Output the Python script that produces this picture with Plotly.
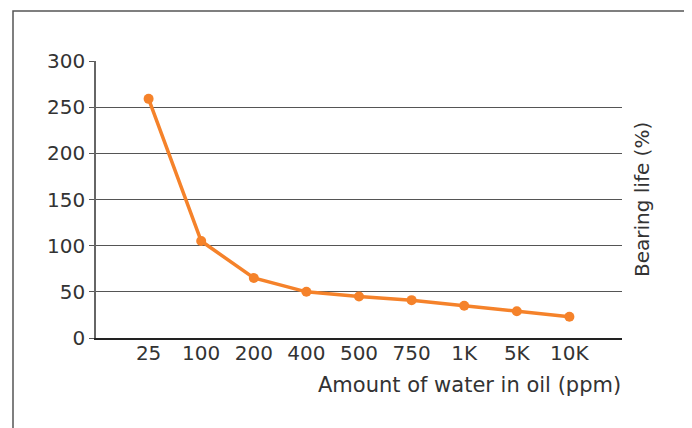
import plotly.graph_objects as go

categories = ["25", "100", "200", "400", "500", "750", "1K", "5K", "10K"]
bearing_life = [259, 105, 65, 50, 45, 41, 35, 29, 23]

# page body has an 8px margin; work in figure pixel coordinates
OFF = 8
W, H = 692 - OFF, 428 - OFF
L, R, T, B = 96 - OFF, 622 - OFF, 61 - OFF, 338 - OFF  # plot area pixels

def px(x):
    return (x - OFF - L) / (R - L)

def py(y):
    return (B - (y - OFF)) / (B - T)

fig = go.Figure()
fig.add_trace(go.Scatter(
    x=categories, y=bearing_life, mode="lines+markers",
    line=dict(color="#F5822A", width=3.5),
    marker=dict(color="#F5822A", size=10),
    hoverinfo="x+y",
))

tickfont = dict(family="DejaVu Sans", size=20, color="#333333")

fig.update_layout(
    width=W, height=H,
    margin=dict(l=L, r=W - R, t=T, b=H - B),
    paper_bgcolor="white", plot_bgcolor="white",
    showlegend=False,
    xaxis=dict(
        type="category", range=[-1, 9],
        showgrid=False, zeroline=False,
        showline=True, linecolor="#222222", linewidth=1.5,
        ticks="", tickfont=tickfont, ticklabelstandoff=-4,
    ),
    yaxis=dict(
        range=[0, 300], dtick=50, tick0=0,
        showgrid=True, gridcolor="#555555", gridwidth=1.2,
        zeroline=False,
        showline=True, linecolor="#666666", linewidth=1.5,
        ticks="outside", ticklen=5, tickcolor="#555555", tickwidth=1.2,
        tickfont=tickfont,
    ),
    shapes=[dict(
        type="rect", xref="paper", yref="paper",
        x0=px(13), x1=px(685), y0=py(445), y1=py(11),
        line=dict(color="#555555", width=1.5), fillcolor="rgba(0,0,0,0)",
        layer="below",
    )],
    annotations=[
        dict(text="Amount of water in oil (ppm)", xref="paper", yref="paper",
             x=px(623), y=py(385), xanchor="right", yanchor="middle",
             showarrow=False, font=dict(family="DejaVu Sans", size=21, color="#333333")),
        dict(text="Bearing life (%)", xref="paper", yref="paper",
             x=px(642), y=py(200), xanchor="center", yanchor="middle",
             textangle=-90, showarrow=False,
             font=dict(family="DejaVu Sans", size=20, color="#333333")),
    ],
)

fig.write_html("out.html")
